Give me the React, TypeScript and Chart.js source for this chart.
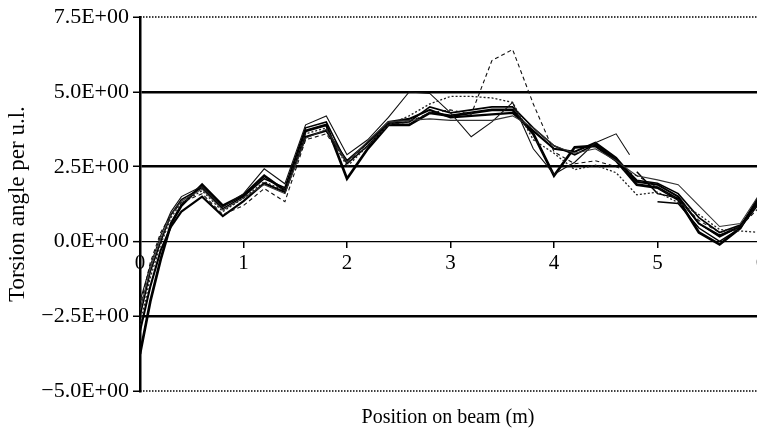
import React, { useEffect, useRef } from "react";
import { Chart, registerables } from "chart.js";
Chart.register(...registerables);

// Shared x positions (m)
const xGrid = [0, 0.1, 0.2, 0.3, 0.4, 0.6, 0.8, 1.0, 1.2, 1.4, 1.6, 1.8, 2.0, 2.2, 2.4, 2.6, 2.8, 3.0, 3.2, 3.4, 3.6, 3.8, 4.0, 4.2, 4.4, 4.6, 4.8, 5.0, 5.2, 5.4, 5.6, 5.8, 6.0];

const seriesA = [-3.76, -2.0, -0.6, 0.6, 1.2, 1.9, 1.2, 1.55, 2.2, 1.7, 3.7, 3.9, 2.1, 3.1, 3.9, 3.9, 4.3, 4.2, 4.3, 4.4, 4.4, 3.6, 2.2, 3.15, 3.2, 2.7, 1.9, 1.8, 1.4, 0.3, -0.1, 0.45, 1.6];
const seriesB = [-3.0, -1.5, -0.3, 0.5, 1.0, 1.5, 0.85, 1.35, 1.95, 1.65, 3.5, 3.7, 2.7, 3.3, 4.0, 4.1, 4.4, 4.15, 4.2, 4.25, 4.3, 3.7, 3.1, 3.0, 3.3, 2.8, 2.0, 1.9, 1.5, 0.6, 0.2, 0.5, 1.5];
const seriesC = [-2.5, -1.0, 0.0, 0.9, 1.4, 1.8, 1.1, 1.5, 2.1, 1.8, 3.8, 4.0, 2.6, 3.2, 3.95, 4.0, 4.5, 4.3, 4.4, 4.5, 4.5, 3.8, 3.2, 2.9, 3.25, 2.75, 2.05, 1.95, 1.6, 0.8, 0.3, 0.55, 1.4];
const seriesE = [-2.2, -0.7, 0.3, 0.9, 1.3, 1.6, 0.9, 1.2, 1.77, 1.33, 3.4, 3.6, 2.6, 3.3, 3.9, 4.0, 4.3, 4.4, 4.25, 6.05, 6.42, 4.6, 3.0, 2.6, 2.7, 2.5, 2.2, 1.8, 1.4, 0.7, 0.3, 0.5, 1.2];
const seriesF = [-2.8, -1.2, -0.1, 0.8, 1.3, 1.7, 1.0, 1.45, 2.0, 1.7, 3.6, 3.8, 2.5, 3.2, 3.9, 4.2, 4.6, 4.85, 4.85, 4.8, 4.65, 3.4, 2.95, 2.4, 2.55, 2.3, 1.56, 1.65, 1.3, 0.9, 0.4, 0.35, 0.3];
const seriesG = [-2.3, -0.9, 0.1, 0.9, 1.35, 1.75, 1.05, 1.45, 1.9, 1.6, 3.45, 3.75, 2.65, 3.35, 4.0, 4.05, 4.1, 4.05, 4.05, 4.05, 4.2, 3.8, 3.2, 2.95, 3.1, 2.7, 2.2, 2.06, 1.9, 1.2, 0.5, 0.6, 1.66];

// Series with their own x positions
const xD = [0, 0.1, 0.2, 0.3, 0.4, 0.6, 0.8, 1.0, 1.2, 1.4, 1.6, 1.8, 2.0, 2.2, 2.4, 2.6, 2.8, 3.0, 3.2, 3.4, 3.6, 3.8, 4.0, 4.2, 4.4, 4.6, 4.73];
const seriesD = [-2.0, -0.8, 0.2, 1.0, 1.5, 1.85, 1.15, 1.6, 2.43, 1.93, 3.9, 4.2, 2.9, 3.4, 4.15, 5.0, 4.95, 4.3, 3.5, 4.0, 4.65, 3.1, 2.25, 2.65, 3.3, 3.6, 2.9];
const xH = [4.8, 5.0, 5.2, 5.4, 5.6, 5.8, 6.0];
const seriesH = [2.33, 1.6, 1.45, 0.6, 0.15, 0.5, 1.5];
const xI = [5.0, 5.2, 5.4, 5.6, 5.8, 6.0];
const seriesI = [1.33, 1.27, 0.45, 0.0, 0.45, 1.35];

const yTicks = [-5, -2.5, 0, 2.5, 5, 7.5];
const xTitle = "Position on beam (m)";
const yTitle = "Torsion angle per u.l.";

const FONT = "'Liberation Serif', 'Times New Roman', serif";

const pts = (xs: number[], ys: number[]) => xs.map((x, i) => ({ x, y: ys[i] }));

export default function App() {
  const ref = useRef<HTMLCanvasElement>(null);
  useEffect(() => {
    const canvas = ref.current!;
    const fmt = (v: number) => (v < 0 ? "\u2212" : "") + Math.abs(v).toFixed(1) + "E+00";
    const decor = {
      id: "decor",
      afterDraw(chart: any) {
        const { ctx, chartArea, scales } = chart;
        const y = scales.y;
        ctx.save();
        ctx.setLineDash([1.5, 1.5]);
        ctx.lineWidth = 1.5;
        ctx.strokeStyle = "#000";
        for (const v of [yTicks[yTicks.length - 1], yTicks[0]]) {
          const py = Math.round(y.getPixelForValue(v));
          ctx.beginPath();
          ctx.moveTo(chartArea.left, py);
          ctx.lineTo(chartArea.right, py);
          ctx.stroke();
        }
        ctx.setLineDash([]);
        ctx.fillStyle = "#000";
        ctx.font = `20px ${FONT}`;
        ctx.textAlign = "center";
        ctx.textBaseline = "middle";
        ctx.fillText(xTitle, 448, 418);
        ctx.restore();
      },
    };
    const mk = (data: any, width: number, dash: number[] = [], color = "#000") => ({
      data,
      borderColor: color,
      borderWidth: width,
      borderDash: dash,
      pointRadius: 0,
      tension: 0,
      fill: false,
      spanGaps: false,
    });
    const chart = new Chart(canvas, {
      type: "line",
      data: {
        datasets: [
          mk(pts(xGrid, seriesF), 1.3, [2, 2], "#222"),
          mk(pts(xGrid, seriesE), 1.1, [4, 3], "#111"),
          mk(pts(xGrid, seriesG), 1.1, [], "#333"),
          mk(pts(xD, seriesD), 1.1, [], "#111"),
          mk(pts(xH, seriesH), 1.5),
          mk(pts(xI, seriesI), 1.5),
          mk(pts(xGrid, seriesC), 1.6),
          mk(pts(xGrid, seriesB), 2.1),
          mk(pts(xGrid, seriesA), 2.7),
        ] as any,
      },
      options: {
        animation: false,
        responsive: false,
        maintainAspectRatio: false,
        layout: { padding: { top: 15, right: 9, bottom: 41, left: 0 } },
        plugins: { legend: { display: false }, tooltip: { enabled: false }, title: { display: false } },
        scales: {
          x: {
            type: "linear",
            min: 0,
            max: 6,
            position: { y: 0 } as any,
            ticks: {
              stepSize: 1,
              color: "#000",
              font: { family: FONT, size: 21 },
              padding: 2,
              maxRotation: 0,
              autoSkip: false,
              callback: (v: any) => String(v),
            },
            grid: { drawOnChartArea: false, drawTicks: true, tickLength: 7, color: "#000", lineWidth: 1.5 },
            border: { display: false },
          },
          y: {
            type: "linear",
            min: yTicks[0],
            max: yTicks[yTicks.length - 1],
            afterBuildTicks: (s: any) => {
              s.ticks = yTicks.map((v) => ({ value: v }));
            },
            afterFit: (s: any) => {
              s.width = 140;
            },
            ticks: {
              color: "#000",
              font: { family: FONT, size: 22 },
              padding: 4,
              callback: (v: any) => fmt(Number(v)),
            },
            grid: {
              color: (c: any) => (c.tick && (c.tick.value === 7.5 || c.tick.value === -5) ? "rgba(0,0,0,0)" : "#000"),
              lineWidth: (c: any) => (c.tick && c.tick.value === 0 ? 1.3 : 2.5),
              tickColor: "#000",
              tickWidth: 1.5,
              tickLength: 7,
              drawTicks: true,
            },
            border: { display: true, color: "#000", width: 2.5 },
            title: {
              display: true,
              text: yTitle,
              color: "#000",
              font: { family: FONT, size: 23 },
              padding: { top: 4, bottom: 0 },
            },
          },
        },
      },
      plugins: [decor],
    } as any);
    return () => chart.destroy();
  }, []);
  return (
    <div style={{ position: "fixed", left: 0, top: 0, width: 757, height: 432, overflow: "hidden", background: "#fff" }}>
      <canvas ref={ref} width={770} height={432} style={{ display: "block", width: 770, height: 432 }} />
    </div>
  );
}
